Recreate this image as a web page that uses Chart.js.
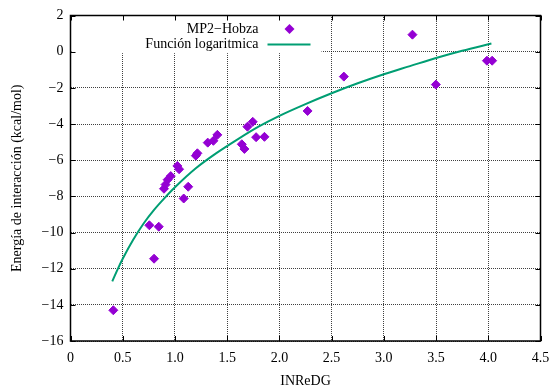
<!DOCTYPE html>
<html>
<head>
<meta charset="utf-8">
<script src="https://cdn.jsdelivr.net/npm/chart.js@4.4.1/dist/chart.umd.min.js"></script>
<style>
  body { margin: 0; background: #fff; }
  canvas { display: block; }
</style>
</head>
<body>
<canvas id="chart" width="551" height="388"></canvas>
<script>
// MP2-Hobza points
const pointsX = [0.41, 0.755, 0.80, 0.845, 0.895, 0.91, 0.93, 0.96, 1.023, 1.04, 1.084, 1.127, 1.20, 1.215,
  1.314, 1.368, 1.406, 1.64, 1.665, 1.694, 1.745, 1.777, 1.857, 2.27, 2.617, 3.274, 3.498, 3.987, 4.037];
const pointsY = [-14.3, -9.6, -11.45, -9.68, -7.58, -7.35, -7.08, -6.88, -6.32, -6.5, -8.12, -7.47, -5.75, -5.62,
  -5.03, -4.93, -4.6, -5.12, -5.38, -4.15, -3.88, -4.73, -4.71, -3.28, -1.38, 0.94, -1.82, -0.5, -0.5];

// fitted curve
const curveX = [0.4, 0.45, 0.5, 0.6, 0.7, 0.8, 0.9, 1.0, 1.2, 1.4, 1.6, 1.8, 2.0, 2.25, 2.5, 2.75, 3.0, 3.25, 3.5, 3.75, 4.03];
const curveY = [-12.7, -12.05, -11.45, -10.4, -9.5, -8.75, -8.1, -7.5, -6.45, -5.6, -4.85, -4.15, -3.55, -2.9,
  -2.3, -1.75, -1.25, -0.8, -0.35, 0.05, 0.45];

const labels = ["MP2\u2212Hobza", "Función logaritmica"];
const FONT = "'Liberation Serif', 'DejaVu Serif', serif";
const purple = "#9400d3";
const green = "#009e73";

const frame = {
  id: "frame",
  beforeDatasetsDraw(chart) {
    const { ctx, chartArea: a } = chart;
    const y0 = chart.scales.y.getPixelForValue(0);
    ctx.save();
    // legend box
    ctx.fillStyle = "#fff";
    ctx.fillRect(a.left + 1, a.top, 250, y0 + 1.5 - a.top);
    ctx.fillStyle = "#000";
    ctx.font = "14px " + FONT;
    ctx.textAlign = "right";
    ctx.textBaseline = "middle";
    const tx = a.left + 188;
    const r1 = a.top + 13.5, r2 = a.top + 29;
    ctx.fillText(chart.data.datasets[0].label, tx, r1);
    ctx.fillText(chart.data.datasets[1].label, tx, r2);
    const mx = a.left + 219;
    ctx.fillStyle = purple;
    ctx.beginPath();
    ctx.moveTo(mx, r1 - 5);
    ctx.lineTo(mx + 5, r1);
    ctx.lineTo(mx, r1 + 5);
    ctx.lineTo(mx - 5, r1);
    ctx.closePath();
    ctx.fill();
    ctx.strokeStyle = green;
    ctx.lineWidth = 2;
    ctx.beginPath();
    ctx.moveTo(a.left + 197, r2);
    ctx.lineTo(a.left + 240, r2);
    ctx.stroke();
    ctx.restore();
  },
  afterDraw(chart) {
    const { ctx, chartArea: a, scales } = chart;
    ctx.save();
    ctx.strokeStyle = "#000";
    ctx.lineWidth = 1;
    ctx.beginPath();
    scales.x.ticks.forEach(t => {
      const px = Math.round(scales.x.getPixelForValue(t.value)) + 0.5;
      ctx.moveTo(px, a.bottom); ctx.lineTo(px, a.bottom - 5);
      ctx.moveTo(px, a.top); ctx.lineTo(px, a.top + 5);
    });
    scales.y.ticks.forEach(t => {
      const py = Math.round(scales.y.getPixelForValue(t.value)) + 0.5;
      ctx.moveTo(a.left, py); ctx.lineTo(a.left + 5, py);
      ctx.moveTo(a.right, py); ctx.lineTo(a.right - 5, py);
    });
    ctx.stroke();
    ctx.lineWidth = 1.5;
    ctx.strokeRect(a.left, a.top, a.right - a.left, a.bottom - a.top);
    ctx.restore();
  }
};

const gridOpts = {
  color: "rgba(0,0,0,0.75)",
  lineWidth: 1,
  drawTicks: false
};

new Chart(document.getElementById("chart"), {
  type: "scatter",
  data: {
    datasets: [
      {
        label: labels[0],
        data: pointsX.map((x, i) => ({ x: x, y: pointsY[i] })),
        pointStyle: "rectRot",
        pointRadius: 4.5,
        pointBorderWidth: 1,
        backgroundColor: purple,
        borderColor: purple,
        showLine: false
      },
      {
        label: labels[1],
        data: curveX.map((x, i) => ({ x: x, y: curveY[i] })),
        showLine: true,
        pointRadius: 0,
        borderColor: green,
        borderWidth: 2,
        cubicInterpolationMode: "monotone"
      }
    ]
  },
  options: {
    responsive: false,
    animation: false,
    layout: { padding: { top: 15.5, right: 10.5, left: 0, bottom: 0 } },
    plugins: { legend: { display: false }, tooltip: { enabled: false } },
    scales: {
      x: {
        type: "linear",
        min: 0,
        max: 4.5,
        grid: gridOpts,
        border: { display: false, dash: [1, 1], dashOffset: 0.5 },
        ticks: { stepSize: 0.5, padding: 9, color: "#000", font: { family: FONT, size: 14 } },
        title: {
          display: true,
          text: "INReDG",
          color: "#000",
          padding: { top: 0, bottom: 0 },
          font: { family: FONT, size: 14, lineHeight: 1 }
        },
        afterFit: s => { s.height = 47; s.paddingLeft = 0; s.paddingRight = 0; }
      },
      y: {
        type: "linear",
        min: -16,
        max: 2,
        grid: gridOpts,
        border: { display: false, dash: [1, 1], dashOffset: 0 },
        ticks: {
          stepSize: 2,
          padding: 7,
          color: "#000",
          font: { family: FONT, size: 14 },
          callback: v => (v < 0 ? "\u2212" + Math.abs(v) : String(v))
        },
        title: {
          display: true,
          text: "Energía de interacción (kcal/mol)",
          color: "#000",
          padding: { top: 9, bottom: 0 },
          font: { family: FONT, size: 14 }
        },
        afterFit: s => { s.width = 70.5; s.paddingTop = 0; s.paddingBottom = 0; }
      }
    }
  },
  plugins: [frame]
});
</script>
</body>
</html>
